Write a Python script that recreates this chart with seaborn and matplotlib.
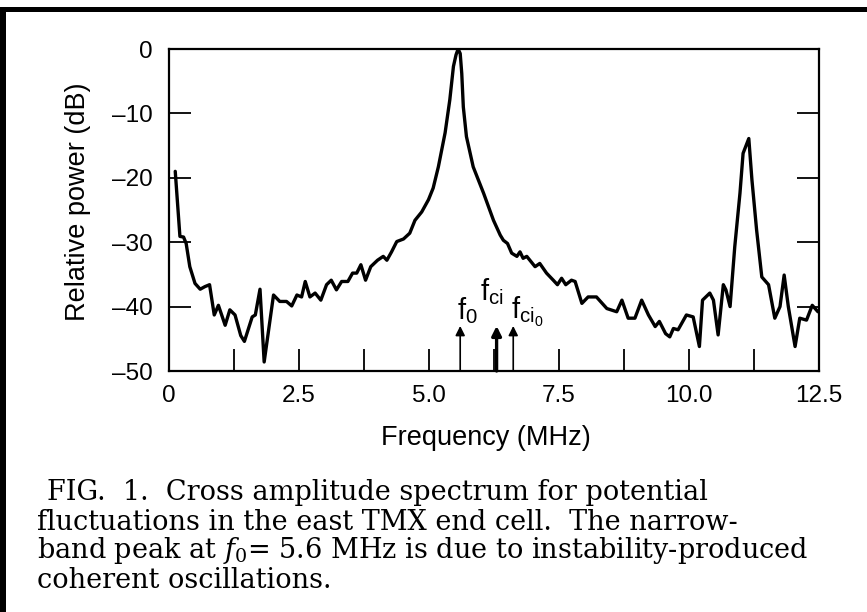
import matplotlib
matplotlib.use('Agg')
import matplotlib.pyplot as plt
import seaborn as sns
import numpy as np
import pandas as pd
from matplotlib.patches import Rectangle

freq_mhz = [0.12, 0.21, 0.28, 0.33, 0.40, 0.50, 0.60, 0.69, 0.78, 0.87, 0.95, 1.08, 1.17, 1.27,
            1.38, 1.45, 1.60, 1.66, 1.75, 1.83, 2.01, 2.13, 2.26, 2.36, 2.46, 2.55, 2.62, 2.71,
            2.81, 2.92, 3.03, 3.12, 3.22, 3.32, 3.44, 3.53, 3.61, 3.69, 3.78, 3.88, 4.01, 4.12,
            4.19, 4.28, 4.38, 4.51, 4.63, 4.73, 4.86, 4.99, 5.08, 5.18, 5.31, 5.40, 5.47, 5.52,
            5.56, 5.60, 5.63, 5.66, 5.72, 5.85, 6.05, 6.24, 6.37, 6.43, 6.51, 6.59, 6.69, 6.75,
            6.81, 6.88, 6.94, 7.04, 7.13, 7.26, 7.39, 7.47, 7.55, 7.63, 7.74, 7.81, 7.94, 8.06,
            8.22, 8.42, 8.61, 8.71, 8.83, 8.96, 9.09, 9.22, 9.35, 9.43, 9.55, 9.63, 9.70, 9.79,
            9.95, 10.08, 10.20, 10.26, 10.40, 10.47, 10.56, 10.66, 10.71, 10.79, 10.88, 10.98,
            11.04, 11.15, 11.21, 11.30, 11.40, 11.53, 11.65, 11.75, 11.83, 11.91, 12.04, 12.13,
            12.26, 12.37, 12.48]
power_db = [-19.0, -29.1, -29.2, -30.2, -33.8, -36.4, -37.3, -36.9, -36.6, -41.3, -39.8, -42.9, -40.5, -41.3,
            -44.5, -45.4, -41.6, -41.3, -37.3, -48.6, -38.2, -39.2, -39.2, -39.9, -38.2, -38.5, -36.1, -38.5,
            -37.9, -39.0, -36.6, -35.9, -37.4, -36.1, -36.1, -34.8, -34.8, -33.5, -35.9, -33.8, -32.8, -32.2,
            -32.8, -31.5, -29.9, -29.5, -28.6, -26.6, -25.3, -23.4, -21.6, -18.3, -13.0, -7.9, -2.7, -0.9,
            0.0, -0.7, -3.8, -9.0, -13.6, -18.3, -22.4, -26.6, -28.9, -29.7, -30.2, -31.7, -32.2, -31.5,
            -32.5, -32.2, -32.8, -33.8, -33.3, -34.8, -35.9, -36.6, -35.6, -36.6, -35.9, -36.1, -39.5, -38.5,
            -38.5, -40.3, -40.8, -39.0, -41.8, -41.8, -39.0, -41.3, -43.1, -42.3, -44.2, -44.7, -43.4, -43.6,
            -41.3, -41.6, -46.2, -39.0, -37.9, -39.0, -44.4, -36.6, -37.4, -40.0, -30.7, -22.4,
            -16.2, -13.9, -20.3, -28.1, -35.4, -36.6, -41.8, -40.0, -35.1, -40.0, -46.2, -41.8,
            -42.1, -39.8, -40.8]

x_major_ticks = [0, 2.5, 5.0, 7.5, 10.0, 12.5]
x_tick_labels = ['0', '2.5', '5.0', '7.5', '10.0', '12.5']
y_ticks = [0, -10, -20, -30, -40, -50]
y_tick_labels = ['0', '\u201310', '\u201320', '\u201330', '\u201340', '\u201350']
marker_freqs = [5.6, 6.3, 6.62]
marker_names = ['0', 'ci', 'ci0']
x_label = 'Frequency (MHz)'
y_label = 'Relative power (dB)'
caption_lines = [
    'FIG.  1.  Cross amplitude spectrum for potential',
    'fluctuations in the east TMX end cell.  The narrow-',
    'band peak at $f_0$= 5.6 MHz is due to instability-produced',
    'coherent oscillations.',
]

sns.set_theme(style='white')
plt.rcParams['font.family'] = ['Liberation Sans', 'DejaVu Sans']
plt.rcParams['mathtext.fontset'] = 'custom'
plt.rcParams['mathtext.rm'] = 'DejaVu Serif'
plt.rcParams['mathtext.it'] = 'DejaVu Serif:italic'
plt.rcParams['mathtext.sf'] = 'Liberation Sans'

W, H = 867, 612
fig = plt.figure(figsize=(W / 100, H / 100), dpi=100)
fig.patch.set_facecolor('white')
ax = fig.add_axes([169 / W, 241 / H, 650 / W, 322 / H])
ax.set_facecolor('white')

df = pd.DataFrame({'freq': freq_mhz, 'power': power_db})
sns.lineplot(data=df, x='freq', y='power', ax=ax, color='black', linewidth=2.4,
             estimator=None, sort=False)

ax.set_xlim(0, 12.5)
ax.set_ylim(-50, 0)
ax.set_xticks(x_major_ticks)
ax.set_xticklabels(x_tick_labels)
minor = [(a + b) / 2 for a, b in zip(x_major_ticks[:-1], x_major_ticks[1:])]
ax.set_xticks(minor, minor=True)
ax.set_yticks(y_ticks)
ax.set_yticklabels(y_tick_labels)
ax.tick_params(axis='x', which='both', direction='in', length=16, width=1.3,
               bottom=True, top=False, color='black', labelsize=17.5, pad=10, labelcolor='black')
ax.tick_params(axis='y', which='both', direction='in', length=16, width=1.3,
               left=True, right=True, color='black', labelsize=17.5, pad=12, labelcolor='black')
for s in ax.spines.values():
    s.set_visible(True)
    s.set_color('black')
    s.set_linewidth(1.6)

ax.set_xlabel(x_label, fontsize=19.5, color='black', labelpad=13)
ax.set_ylabel(y_label, fontsize=19.5, color='black', labelpad=15)
ax.xaxis.label.set_x(0.488)
ax.yaxis.label.set_y(0.525)

# arrows and labels
for fq, nm in zip(marker_freqs, marker_names):
    lw = 2.4 if nm == 'ci' else 1.2
    ax.annotate('', xy=(fq, -43.0), xytext=(fq, -50),
                arrowprops=dict(arrowstyle='-|>', color='black', lw=lw,
                                mutation_scale=14, shrinkA=0, shrinkB=0))

ax.text(5.53, -41.9, r'$\mathsf{f}_\mathsf{0}$', fontsize=21, ha='left', va='baseline', color='black')
ax.text(5.98, -39.0, r'$\mathsf{f}_\mathsf{ci}$', fontsize=21, ha='left', va='baseline', color='black')
ax.text(6.58, -41.9, r'$\mathsf{f}_{\mathsf{ci}_\mathsf{0}}$', fontsize=21, ha='left', va='baseline', color='black')

# caption
cap_x = [47, 37, 37, 37]
cap_y = [492, 522, 551, 580]
for i, line in enumerate(caption_lines):
    fig.text(cap_x[i] / W, 1 - cap_y[i] / H, line, fontsize=19.5, family='DejaVu Serif',
             ha='left', va='center', color='black')

# frame
fig.add_artist(Rectangle((0, 1 - 12 / H), 1, 5 / H, transform=fig.transFigure,
                         color='black', lw=0))
fig.add_artist(Rectangle((0, 0), 6 / W, 1 - 7 / H, transform=fig.transFigure,
                         color='black', lw=0))

fig.savefig('out.png', dpi=100, facecolor='white')
